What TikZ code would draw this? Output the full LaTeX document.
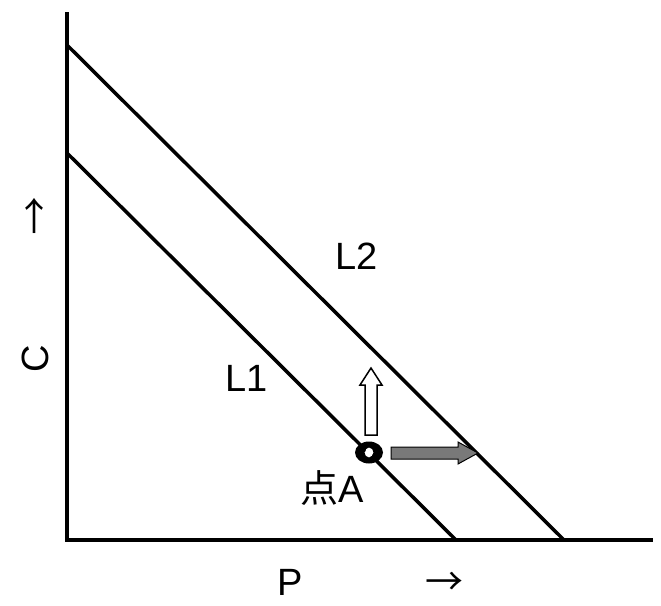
\documentclass[tikz,border=0pt]{standalone}
\usepackage{fontspec}
\setmainfont{Liberation Sans}
\newfontfamily\jpfont{Noto Sans CJK JP}
\begin{document}
\begin{tikzpicture}[x=1pt,y=-1pt,
  axis/.style={line width=3.5pt},
  curve/.style={line width=3.5pt},
  lbl/.style={font=\fontsize{38}{44}\selectfont, inner sep=0pt}]
\useasboundingbox (0,0) rectangle (661,605);
% axes
\coordinate (ytop) at (67,12);
\coordinate (orig) at (67,540);
\coordinate (xend) at (653,540);
\draw[axis] (ytop) -- (orig) -- (xend);
% lines
\coordinate (L1a) at (67,153);
\coordinate (L1b) at (456,540);
\coordinate (L2a) at (67,45);
\coordinate (L2b) at (564,540);
\draw[curve] (L1a) -- (L1b);
\draw[curve] (L2a) -- (L2b);
% labels
\node[lbl] (l2) at (357,256) {L2};
\node[lbl] (l1) at (247,378) {L1};
\node[lbl] (ptA) at (332,488) {{\jpfont 点}A};
\node[lbl] (p) at (290,582) {P};
\node[lbl] (xarr) at (444,584) {{\jpfont →}};
\node[lbl] (yarr) at (35,216) {{\jpfont ↑}};
\node[lbl, rotate=90] (c) at (35,359) {C};
% up arrow (white)
\draw[line width=1.5pt, fill=white, line join=miter]
  (365,435) -- (365,385) -- (360,385) -- (371,368) -- (382,385) -- (377,385) -- (377,435) -- cycle;
% right arrow (gray)
\draw[line width=1pt, fill=gray!95!black, line join=miter]
  (391,447) -- (458,447) -- (458,442) -- (478,453) -- (458,464) -- (458,459) -- (391,459) -- cycle;
% point A ring
\fill[white] (369,452.5) ellipse [x radius=4, y radius=5];
\fill[black, even odd rule] (369,452.5) ellipse [x radius=14, y radius=11]
  (369,452.5) ellipse [x radius=4.5, y radius=5];
\end{tikzpicture}
\end{document}
